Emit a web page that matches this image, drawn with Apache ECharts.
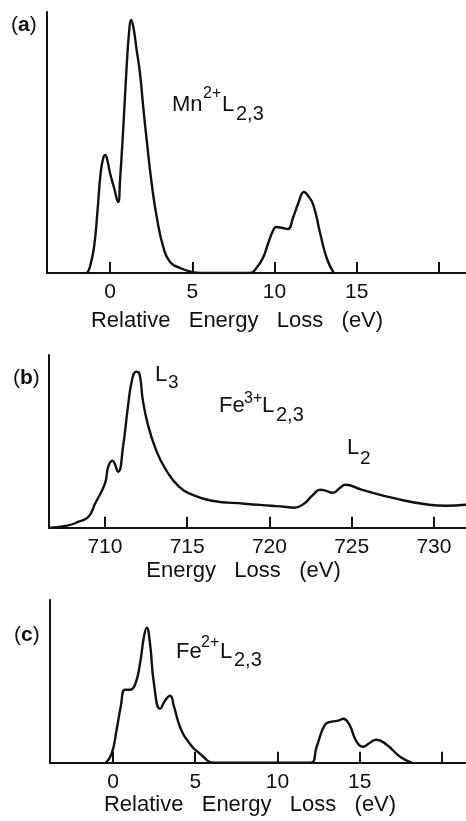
<!DOCTYPE html>
<html><head><meta charset="utf-8">
<script src="https://cdn.jsdelivr.net/npm/echarts@6/dist/echarts.min.js"></script>
<style>html,body{margin:0;padding:0;background:#fff}#c{width:466px;height:821px}</style>
</head><body><div id="c"></div>
<script>
// ---- data (a) Mn2+ L2,3 ----
const aEnergy = [-1.40,-1.22,-0.97,-0.77,-0.57,-0.41,-0.29,-0.15,0.00,0.25,0.49,0.61,0.81,1.01,1.17,1.28,1.42,1.62,1.82,2.02,2.23,2.53,2.84,3.24,3.65,4.26,4.97,5.50,8.50,8.90,9.32,9.62,9.93,10.10,10.50,10.80,11.14,11.45,11.79,12.05,12.36,12.77,13.17,13.60];
const aIntensity = [0,6,26,60,100,115,118,112,100,85,71,93,146,206,243,253,246,223,200,166,133,90,56,26,11,5,1,0,0,5,16,30,43,46,45,44,56,70,81,77,68,40,15,0];
const aTickValues = [0,5,10,15,20];
const aTickLabels = [0,5,10,15];
const aTitle = 'Relative   Energy   Loss   (eV)';

// ---- data (b) Fe3+ L2,3 ----
const bEnergy = [706.7,707.7,708.4,709.0,709.4,710.0,710.2,710.45,710.8,711.1,711.4,711.65,711.9,712.1,712.3,712.6,713.1,713.7,714.5,715.3,716.5,718.5,720.1,720.9,721.5,722.1,722.6,723.1,723.4,723.85,724.3,724.6,725.6,727.7,729.7,730.7,731.9];
const bIntensity = [0,2,6,11,24,44,61,67,56,81,121,148,156,154,128,104,78,58,41,33,27,24,22,21,20,24,32,38,37,35,40,43,38,29,23,22,23];
const bTickValues = [710,715,720,725,730];
const bTickLabels = [710,715,720,725,730];
const bTitle = 'Energy   Loss   (eV)';

// ---- data (c) Fe2+ L2,3 ----
const cEnergy = [-0.43,-0.08,0.22,0.47,0.73,1.03,1.34,1.64,1.88,2.05,2.25,2.49,2.86,3.20,3.47,3.71,4.07,4.58,5.29,6.20,12.00,12.38,12.89,13.30,13.70,14.00,14.37,14.81,15.22,15.62,16.00,16.64,17.45,18.16];
const cIntensity = [0,9,33,56,73,73,78,99,126,135,119,79,54,63,67,56,36,21,9,0,0,16,38,41,42,44,38,21,16,20,23,18,6,0];
const cTickValues = [0,5,10,15,20];
const cTickLabels = [0,5,10,15];
const cTitle = 'Relative   Energy   Loss   (eV)';

const FONT = "'Liberation Sans', Arial, Helvetica, sans-serif";
const INK = '#111';

function zip(xs, ys) { return xs.map((x, i) => [x, ys[i]]); }

function xAxisCfg(idx, min, max, ticks, labels, title, gap, padR) {
  return {
    gridIndex: idx, type: 'value', min: min, max: max,
    axisLine: { onZero: false, lineStyle: { color: INK, width: 2 } },
    axisTick: { inside: true, length: 11, customValues: ticks, lineStyle: { color: INK, width: 2 } },
    axisLabel: { customValues: labels, fontSize: 21, fontFamily: FONT, color: INK, margin: 9 },
    splitLine: { show: false },
    name: title, nameLocation: 'middle', nameGap: gap,
    nameTextStyle: { fontSize: 22, fontFamily: FONT, color: INK, padding: [0, padR, 0, 0] }
  };
}
function yAxisCfg(idx, max) {
  return {
    gridIndex: idx, type: 'value', min: 0, max: max,
    axisLine: { show: true, onZero: false, lineStyle: { color: INK, width: 2 } },
    axisTick: { show: false }, axisLabel: { show: false }, splitLine: { show: false }
  };
}
function seriesCfg(idx, xs, ys) {
  return {
    type: 'line', xAxisIndex: idx, yAxisIndex: idx, data: zip(xs, ys),
    showSymbol: false, smooth: 0.5, silent: true,
    lineStyle: { color: INK, width: 2.4, join: 'round', cap: 'round' }
  };
}
function piece(text, x, y, size) {
  return { type: 'text', x: x, y: y, silent: true,
    style: { text: text, fontSize: size, fontFamily: FONT, fill: INK, align: 'left', verticalAlign: 'middle' } };
}
function panelLabel(letter, x, y) {
  return { type: 'text', x: x, y: y, silent: true,
    style: { text: '{n|(}{b|' + letter + '}{n|)}', verticalAlign: 'middle', align: 'left', fill: INK,
      rich: { n: { fontSize: 21, fontFamily: FONT, fill: INK },
              b: { fontSize: 21, fontFamily: FONT, fontWeight: 'bold', fill: INK } } } };
}

const chart = echarts.init(document.getElementById('c'), null, { renderer: 'canvas' });
chart.setOption({
  animation: false,
  backgroundColor: '#fff',
  grid: [
    { left: 47, top: 12, width: 419, height: 261 },
    { left: 49, top: 355, width: 417, height: 172.7 },
    { left: 50, top: 600, width: 416, height: 162.7 }
  ],
  xAxis: [
    xAxisCfg(0, -3.83, 21.64, aTickValues, aTickLabels, aTitle, 37, 39),
    xAxisCfg(1, 706.6, 731.95, bTickValues, bTickLabels, bTitle, 32, 28),
    xAxisCfg(2, -3.83, 21.46, cTickValues, cTickLabels, cTitle, 30, 16)
  ],
  yAxis: [ yAxisCfg(0, 261), yAxisCfg(1, 172.7), yAxisCfg(2, 162.7) ],
  series: [
    seriesCfg(0, aEnergy, aIntensity),
    seriesCfg(1, bEnergy, bIntensity),
    seriesCfg(2, cEnergy, cIntensity)
  ],
  graphic: [
    panelLabel('a', 11, 25),
    panelLabel('b', 13, 378),
    panelLabel('c', 14, 635),
    // Mn2+ L2,3
    piece('Mn', 172, 105, 22), piece('2+', 203, 94, 16), piece('L', 222, 105, 22), piece('2,3', 236, 114, 20),
    // L3
    piece('L', 155, 375, 22), piece('3', 168, 383, 19),
    // Fe3+ L2,3
    piece('Fe', 219, 406, 22), piece('3+', 244, 399, 16), piece('L', 262, 406, 22), piece('2,3', 276, 415, 20),
    // L2
    piece('L', 347, 447.5, 22), piece('2', 360, 459, 19),
    // Fe2+ L2,3
    piece('Fe', 176, 651.5, 22), piece('2+', 201, 643, 16), piece('L', 220, 651.5, 22), piece('2,3', 234, 660, 20)
  ]
});
</script>
</body></html>
